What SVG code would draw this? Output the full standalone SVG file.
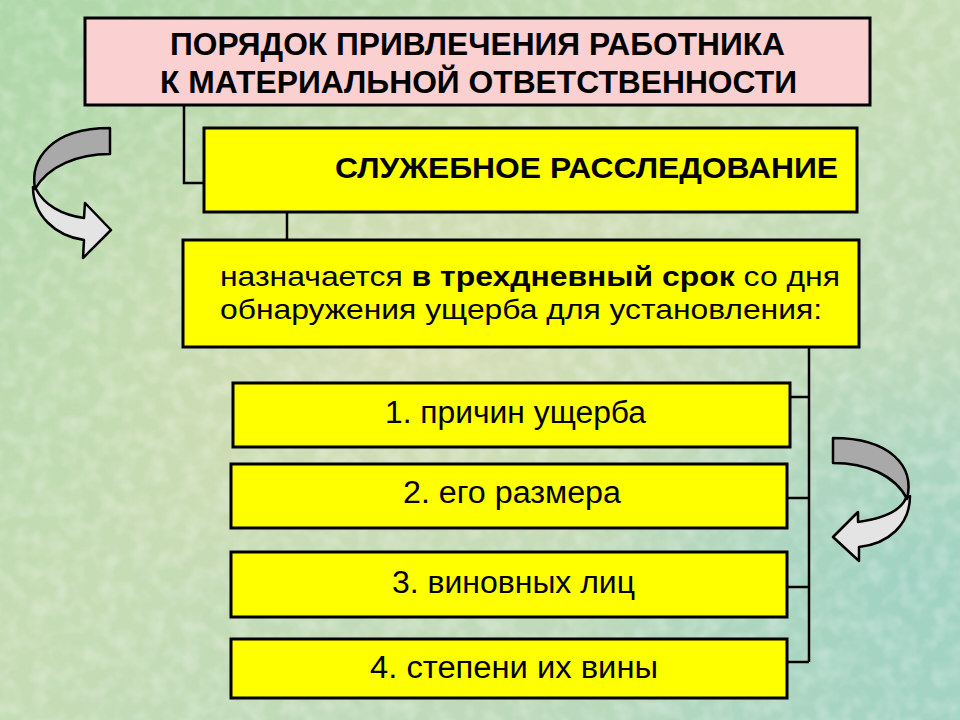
<svg xmlns="http://www.w3.org/2000/svg" width="960" height="720" viewBox="0 0 960 720">
<defs>
<style>
.box{stroke:#000;stroke-width:3}
.pink{fill:#FAD0D0}
.yel{fill:#FFFF00}
.t{font-family:"Liberation Sans",Arial,sans-serif;fill:#000}
.b{font-weight:bold}
.con{fill:none;stroke:#000;stroke-width:2.5}
.arrowDark{fill:#A9A9A9;stroke:#000;stroke-width:2.5;stroke-linejoin:round}
.arrowLight{fill:#E4E4E4;stroke:#000;stroke-width:2.5;stroke-linejoin:round}
</style>
<linearGradient id="bg" x1="0" y1="0" x2="1" y2="1">
<stop offset="0" stop-color="#AED7A9"/>
<stop offset="0.45" stop-color="#C6DCB4"/>
<stop offset="0.75" stop-color="#BEDABB"/>
<stop offset="1" stop-color="#A8D5C4"/>
</linearGradient>
<radialGradient id="glow" cx="0.45" cy="0.45" r="0.45">
<stop offset="0" stop-color="#E2E0B6" stop-opacity="0.6"/>
<stop offset="1" stop-color="#E2E0B6" stop-opacity="0"/>
</radialGradient>
<radialGradient id="teal" cx="0.95" cy="0.8" r="0.35">
<stop offset="0" stop-color="#98D0C4" stop-opacity="0.7"/>
<stop offset="1" stop-color="#98D0C4" stop-opacity="0"/>
</radialGradient>
<filter id="tex" x="0" y="0" width="100%" height="100%">
<feTurbulence type="fractalNoise" baseFrequency="0.06" numOctaves="2" seed="3" result="n"/>
<feColorMatrix in="n" type="matrix" values="0 0 0 0 1  0 0 0 0 1  0 0 0 0 1  0 0 0 -2.2 1.35"/>
</filter>
</defs>
<rect width="960" height="720" fill="url(#bg)"/>
<rect width="960" height="720" fill="url(#glow)"/>
<rect width="960" height="720" fill="url(#teal)"/>
<rect width="960" height="720" filter="url(#tex)" opacity="0.25"/>

<g id="connectors">
<path class="con" d="M184,105 V183 H205"/>
<path class="con" d="M287,212 V240"/>
<path class="con" d="M809,347 V662"/>
<path class="con" d="M790,397 H809"/>
<path class="con" d="M787,498 H809"/>
<path class="con" d="M787,587 H809"/>
<path class="con" d="M787,662 H809"/>
</g>

<g id="title">
<rect class="box pink" x="85" y="18" width="785" height="87"/>
<text class="t b" x="170" y="55" font-size="31" textLength="615" lengthAdjust="spacingAndGlyphs">ПОРЯДОК ПРИВЛЕЧЕНИЯ РАБОТНИКА</text>
<text class="t b" x="160" y="93" font-size="31" textLength="637" lengthAdjust="spacingAndGlyphs">К МАТЕРИАЛЬНОЙ ОТВЕТСТВЕННОСТИ</text>
</g>

<g id="investigation">
<rect class="box yel" x="204" y="128" width="653" height="84"/>
<text class="t b" x="335" y="178" font-size="30" textLength="503" lengthAdjust="spacingAndGlyphs">СЛУЖЕБНОЕ РАССЛЕДОВАНИЕ</text>
</g>

<g id="term">
<rect class="box yel" x="183" y="240" width="676" height="107"/>
<text class="t" x="220" y="286" font-size="28.5" textLength="620" lengthAdjust="spacingAndGlyphs">назначается <tspan class="b">в трехдневный срок</tspan> со дня</text>
<text class="t" x="220" y="319" font-size="28.5" textLength="602" lengthAdjust="spacingAndGlyphs">обнаружения ущерба для установления:</text>
</g>

<g id="item1">
<rect class="box yel" x="233" y="383" width="557" height="64"/>
<text class="t" x="385" y="423" font-size="31" textLength="261" lengthAdjust="spacingAndGlyphs">1. причин ущерба</text>
</g>
<g id="item2">
<rect class="box yel" x="231" y="464" width="556" height="64"/>
<text class="t" x="403" y="503" font-size="31" textLength="218" lengthAdjust="spacingAndGlyphs">2. его размера</text>
</g>
<g id="item3">
<rect class="box yel" x="231" y="552" width="556" height="65"/>
<text class="t" x="392" y="593" font-size="31" textLength="243" lengthAdjust="spacingAndGlyphs">3. виновных лиц</text>
</g>
<g id="item4">
<rect class="box yel" x="231" y="639" width="556" height="59"/>
<text class="t" x="370" y="678" font-size="31" textLength="288" lengthAdjust="spacingAndGlyphs">4. степени их вины</text>
</g>

<g id="arrow-left">
<path class="arrowLight" d="M33,187 C33,215 55,236 84,240 L83,258 L111,230 L85,203 L84,218 C62,215 44,205 36,189 Z"/>
<path class="arrowDark" d="M110,128 L110,154 C78,154 48,166 35,189 C30,160 50,128 110,128 Z"/>
</g>

<g id="arrow-right">
<path class="arrowLight" d="M910,496 C910,525 888,544 859,547 L859,561 L833,537 L858,512 L858,522 C880,519 900,512 906,498 Z"/>
<path class="arrowDark" d="M833,438 L833,463 C866,463 895,475 907,499 C915,466 890,438 833,438 Z"/>
</g>
</svg>
